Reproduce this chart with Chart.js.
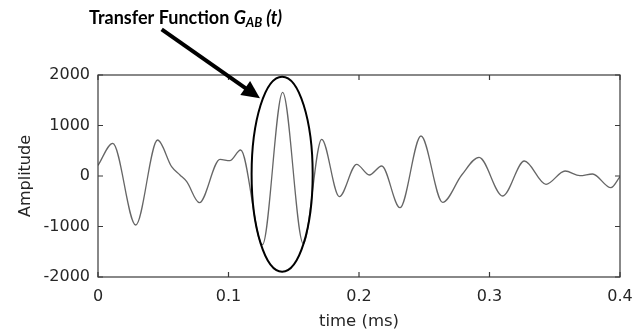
<!DOCTYPE html>
<html><head><meta charset="utf-8">
<script src="https://cdn.jsdelivr.net/npm/chart.js@4/dist/chart.umd.min.js"></script>
<style>html,body{margin:0;padding:0;background:#fff}#wrap{width:644px;height:336px}</style>
</head><body><div id="wrap"><canvas id="c" width="644" height="336"></canvas></div>
<script>
const timeMs = [0, 0.0113, 0.0289, 0.0457, 0.0564, 0.0628, 0.068, 0.0777, 0.0935, 0.101, 0.1093, 0.126, 0.1415, 0.1573, 0.1714, 0.1849, 0.1982, 0.2079, 0.2174, 0.2314, 0.2475, 0.2641, 0.2787, 0.292, 0.3101, 0.3267, 0.3433, 0.3579, 0.3693, 0.379, 0.393, 0.4];
const amplitude = [210, 647, -970, 713, 185, 20, -112, -528, 330, 303, 515, -1360, 1657, -1340, 727, -409, 231, 20, 198, -627, 792, -521, 20, 370, -396, 297, -164, 99, 6, 40, -232, -13];
const xTicks = [0, 0.1, 0.2, 0.3, 0.4];
const yTicks = [-2000, -1000, 0, 1000, 2000];
const titleText = "Transfer Function ";
// ellipse annotation (data units): center t, center amp, half-width t, half-height amp
const ellipseSpec = {t: 0.1411, a: 36, rt: 0.0234, ra: 1931};
// arrow annotation (data units)
const arrowFrom = {t: 0.0488, a: 2905};
const arrowTo = {t: 0.1241, a: 1539};

const points = timeMs.map((t, i) => ({x: t, y: amplitude[i]}));
const axisColor = '#3a3a3a';
const fontFam = '"DejaVu Sans", sans-serif';
const txtColor = '#262626';

const deco = {
  id: 'deco',
  afterDatasetsDraw(chart) {
    const {ctx, chartArea: a, scales: {x, y}} = chart;
    ctx.save();
    ctx.strokeStyle = axisColor; ctx.lineWidth = 1.2;
    ctx.strokeRect(a.left, a.top, a.right - a.left, a.bottom - a.top);
    const L = 5;
    ctx.beginPath();
    xTicks.forEach(v => { const px = x.getPixelForValue(v);
      ctx.moveTo(px, a.bottom); ctx.lineTo(px, a.bottom - L);
      ctx.moveTo(px, a.top); ctx.lineTo(px, a.top + L); });
    yTicks.forEach(v => { const py = y.getPixelForValue(v);
      ctx.moveTo(a.left, py); ctx.lineTo(a.left + L, py);
      ctx.moveTo(a.right, py); ctx.lineTo(a.right - L, py); });
    ctx.stroke();
    // ellipse
    const cx = x.getPixelForValue(ellipseSpec.t), cy = y.getPixelForValue(ellipseSpec.a);
    const rx = Math.abs(x.getPixelForValue(ellipseSpec.t + ellipseSpec.rt) - cx);
    const ry = Math.abs(y.getPixelForValue(ellipseSpec.a + ellipseSpec.ra) - cy);
    ctx.beginPath(); ctx.ellipse(cx, cy, rx, ry, 0, 0, Math.PI * 2);
    ctx.strokeStyle = '#000'; ctx.lineWidth = 2; ctx.stroke();
    // arrow
    const x1 = x.getPixelForValue(arrowFrom.t), y1 = y.getPixelForValue(arrowFrom.a);
    const x2 = x.getPixelForValue(arrowTo.t), y2 = y.getPixelForValue(arrowTo.a);
    const ang = Math.atan2(y2 - y1, x2 - x1);
    const hl = 18, hw = 8.5;
    const bx = x2 - hl * Math.cos(ang), by = y2 - hl * Math.sin(ang);
    ctx.beginPath(); ctx.moveTo(x1, y1); ctx.lineTo(bx + 2 * Math.cos(ang), by + 2 * Math.sin(ang));
    ctx.lineWidth = 4; ctx.lineCap = 'butt'; ctx.stroke();
    ctx.beginPath(); ctx.moveTo(x2, y2);
    ctx.lineTo(bx + hw * Math.sin(ang), by - hw * Math.cos(ang));
    ctx.lineTo(bx - hw * Math.sin(ang), by + hw * Math.cos(ang));
    ctx.closePath(); ctx.fillStyle = '#000'; ctx.fill();
    // title
    const fB = 'bold 18px Lato, "Open Sans", sans-serif';
    const fI = 'italic bold 18px Lato, "Open Sans", sans-serif';
    const fS = 'italic bold 13px Lato, "Open Sans", sans-serif';
    ctx.fillStyle = '#000'; ctx.textBaseline = 'alphabetic'; ctx.textAlign = 'left';
    let tx = 89; const ty = 24;
    ctx.font = fB; ctx.fillText(titleText, tx, ty); tx += ctx.measureText(titleText).width;
    ctx.font = fI; ctx.fillText('G', tx, ty); tx += ctx.measureText('G').width;
    ctx.font = fS; ctx.fillText('AB', tx, ty + 3); tx += ctx.measureText('AB').width;
    ctx.font = fI; ctx.fillText(' (t)', tx, ty);
    ctx.restore();
  }
};

new Chart(document.getElementById('c'), {
  type: 'line',
  data: { datasets: [{ data: points, borderColor: '#666666', borderWidth: 1.3,
    pointRadius: 0, fill: false, cubicInterpolationMode: 'monotone' }] },
  options: {
    responsive: false, animation: false, devicePixelRatio: 1,
    layout: { padding: { top: 75, right: 24, bottom: 0, left: 0 } },
    plugins: { legend: { display: false }, tooltip: { enabled: false } },
    scales: {
      x: { type: 'linear', min: 0, max: 0.4,
        afterBuildTicks: s => { s.ticks = xTicks.map(v => ({value: v})); },
        afterFit: s => { s.height = 59; },
        grid: { display: false, drawTicks: false }, border: { display: false },
        ticks: { padding: 10, color: txtColor, font: { family: fontFam, size: 16 }, maxRotation: 0,
          callback: v => String(v) },
        title: { display: true, text: 'time (ms)', color: txtColor, font: { family: fontFam, size: 16.5 }, padding: { top: 0 } } },
      y: { min: -2000, max: 2000,
        afterBuildTicks: s => { s.ticks = yTicks.map(v => ({value: v})); },
        afterFit: s => { s.width = 98; },
        grid: { display: false, drawTicks: false }, border: { display: false },
        ticks: { padding: 8, color: txtColor, font: { family: fontFam, size: 16 }, callback: v => String(v) },
        title: { display: true, text: 'Amplitude', color: txtColor, font: { family: fontFam, size: 16 }, padding: { top: 16, bottom: 0 } } }
    }
  },
  plugins: [deco]
});
</script></body></html>
